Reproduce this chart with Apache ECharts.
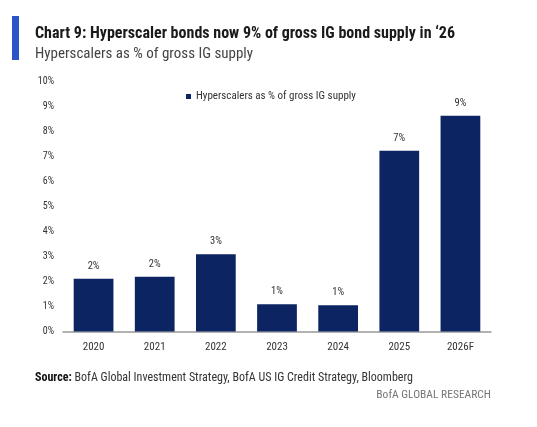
<!DOCTYPE html>
<html lang="en">

<head>
    <meta charset="UTF-8">
    <title>Chart 9</title>
    <style>
        html, body { margin: 0; padding: 0; background: #fff; }
    </style>
</head>

<body>
    <div id="main" style="width: 537px;height:427px;"></div>
    <script src="https://cdn.jsdelivr.net/npm/echarts@6/dist/echarts.min.js"></script>
    <script>
        var years = ['2020', '2021', '2022', '2023', '2024', '2025', '2026F'];
        var shares = [2.11, 2.19, 3.08, 1.09, 1.05, 7.22, 8.61];
        var yTicks = [0, 1, 2, 3, 4, 5, 6, 7, 8, 9, 10];

        var font = '"Roboto Condensed", "Noto Sans Condensed", sans-serif';
        var navy = '#0c2461';

        var myChart = echarts.init(document.getElementById('main'));

        option = {
            animation: false,
            textStyle: { fontFamily: font },
            title: [{
                text: 'Chart 9: Hyperscaler bonds now 9% of gross IG bond supply in \u201826',
                left: 30, top: 21,
                textStyle: { fontFamily: font, fontSize: 16, fontWeight: 'bold', color: '#1a1a1a' }
            }, {
                text: 'Hyperscalers as % of gross IG supply',
                left: 30, top: 42,
                textStyle: { fontFamily: font, fontSize: 15, fontWeight: 'normal', color: '#444' }
            }, {
                text: '{b|Source:} BofA Global Investment Strategy, BofA US IG Credit Strategy, Bloomberg',
                left: 30, top: 367,
                textStyle: {
                    fontFamily: font, fontSize: 12, fontWeight: 'normal', color: '#333',
                    rich: { b: { fontFamily: font, fontSize: 12, fontWeight: 'bold', color: '#111' } }
                }
            }, {
                text: 'BofA GLOBAL RESEARCH',
                right: 41, top: 384,
                textStyle: { fontFamily: font, fontSize: 11.5, fontWeight: 'normal', color: '#777' }
            }],
            graphic: [{
                type: 'rect',
                shape: { x: 12, y: 16, width: 7, height: 44 },
                style: { fill: '#2a55c8' }
            }],
            legend: {
                data: ['Hyperscalers as % of gross IG supply'],
                left: 181, top: 86,
                icon: 'rect', itemWidth: 5, itemHeight: 5, itemGap: 4,
                textStyle: { fontFamily: font, fontSize: 11, color: '#333' }
            },
            grid: { left: 63, right: 46, top: 81, bottom: 95.5 },
            xAxis: {
                type: 'category',
                data: years,
                axisLine: { lineStyle: { color: '#999', width: 1.5 } },
                axisTick: { show: false },
                axisLabel: { fontFamily: font, fontSize: 11, color: '#333', margin: 10 }
            },
            yAxis: {
                type: 'value',
                min: yTicks[0], max: yTicks[yTicks.length - 1], interval: 1,
                splitLine: { show: false },
                axisLabel: { fontFamily: font, fontSize: 10, color: '#333', margin: 9, formatter: '{value}%' }
            },
            series: [{
                name: 'Hyperscalers as % of gross IG supply',
                type: 'bar',
                data: shares,
                barWidth: '65%',
                itemStyle: { color: navy },
                label: {
                    show: true, position: 'top', distance: 7,
                    fontFamily: font, fontSize: 10.5, color: '#333',
                    formatter: function (p) { return Math.round(p.value) + '%'; }
                }
            }]
        };
        myChart.setOption(option);
    </script>
</body>

</html>
